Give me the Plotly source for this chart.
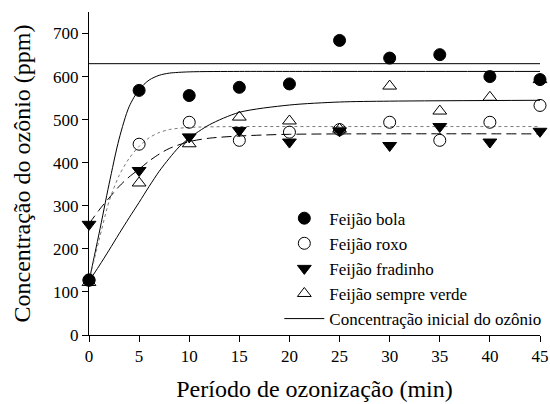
import plotly.graph_objects as go

# ---- data ----
tempo = [0, 5, 10, 15, 20, 25, 30, 35, 40, 45]
bola = [127, 568, 556, 575, 583, 684, 643, 651, 600, 593]
roxo = [128, 443, 494, 452, 471, 477, 494, 452, 494, 533]
fradinho = [257, 382, 460, 475, 448, 474, 440, 484, 448, 473]
sempre_verde = [122, 353, 444, 506, 497, 478, 578, 520, 552, 593]
conc_inicial = 630

# fitted curves
fit_bola_x = [0, 1, 2, 3, 4, 5, 6, 7, 8, 10, 15, 20, 45]
fit_bola_y = [125, 235, 350, 455, 530, 570, 592, 603, 608, 611, 612, 612, 612]
fit_roxo_x = [0, 1, 2, 3, 4, 5, 6, 7, 8, 10, 15, 20, 45]
fit_roxo_y = [125, 220, 310, 370, 410, 438, 458, 470, 477, 482, 484, 484, 484]
fit_frad_x = [0, 1, 2, 3, 4, 5, 6, 7, 8, 10, 12, 15, 20, 45]
fit_frad_y = [258, 290, 318, 345, 367, 385, 404, 420, 433, 449, 457, 462, 466, 467]
fit_verde_x = [0, 1, 2, 3, 4, 5, 6, 7, 8, 9, 10, 12, 15, 20, 25, 30, 45]
fit_verde_y = [125, 160, 197, 235, 272, 308, 345, 380, 410, 437, 457, 488, 517, 534, 541, 543, 545]

xticks = [0, 5, 10, 15, 20, 25, 30, 35, 40, 45]
yticks = [0, 100, 200, 300, 400, 500, 600, 700]

FONT = '"Liberation Serif", "Times New Roman", Times, serif'

fig = go.Figure()

line_kw = dict(color="black", width=1)
fig.add_trace(go.Scatter(x=fit_bola_x, y=fit_bola_y, mode="lines", line=dict(**line_kw, shape="spline", smoothing=0.8), showlegend=False, hoverinfo="skip"))
fig.add_trace(go.Scatter(x=fit_roxo_x, y=fit_roxo_y, mode="lines", line=dict(color="#777777", width=1, dash="dot", shape="spline", smoothing=0.8), showlegend=False, hoverinfo="skip"))
fig.add_trace(go.Scatter(x=fit_frad_x, y=fit_frad_y, mode="lines", line=dict(color="black", width=1, dash="10px,5px", shape="spline", smoothing=0.8), showlegend=False, hoverinfo="skip"))
fig.add_trace(go.Scatter(x=fit_verde_x, y=fit_verde_y, mode="lines", line=dict(**line_kw, shape="spline", smoothing=0.8), showlegend=False, hoverinfo="skip"))

fig.add_trace(go.Scatter(x=tempo, y=bola, mode="markers", name="Feijão bola",
                         marker=dict(symbol="circle", size=12, color="black", line=dict(color="black", width=1)), cliponaxis=False))
fig.add_trace(go.Scatter(x=tempo, y=roxo, mode="markers", name="Feijão roxo",
                         marker=dict(symbol="circle-open", size=12, color="black", line=dict(color="black", width=1)), cliponaxis=False))
fig.add_trace(go.Scatter(x=tempo, y=fradinho, mode="markers", name="Feijão fradinho",
                         marker=dict(symbol="triangle-down", size=12, color="black", line=dict(color="black", width=1)), cliponaxis=False))
fig.add_trace(go.Scatter(x=tempo, y=sempre_verde, mode="markers", name="Feijão sempre verde",
                         marker=dict(symbol="triangle-up-open", size=12, color="black", line=dict(color="black", width=1)), cliponaxis=False))
fig.add_trace(go.Scatter(x=[tempo[0], tempo[-1]], y=[conc_inicial, conc_inicial], mode="lines",
                         name="Concentração inicial do ozônio", line=dict(color="black", width=1)))

fig.update_layout(
    width=550, height=404,
    margin=dict(l=89, r=10, t=12, b=69, autoexpand=False),
    paper_bgcolor="white", plot_bgcolor="white",
    font=dict(family=FONT, size=17, color="black"),
    legend=dict(x=0.422, y=0.416, xanchor="left", yanchor="top",
                bgcolor="rgba(0,0,0,0)", borderwidth=0, itemwidth=40,
                font=dict(family=FONT, size=17), tracegroupgap=0),
    xaxis=dict(range=[0, 45], tickvals=xticks, ticks="outside", ticklen=6, tickcolor="black",
               showline=True, linecolor="black", linewidth=1, showgrid=False, zeroline=False,
               automargin=False,
               title=dict(text="Período de ozonização (min)", font=dict(family=FONT, size=24), standoff=14),
               tickfont=dict(family=FONT, size=17)),
    yaxis=dict(range=[0, 750], tickvals=yticks, ticks="outside", ticklen=6, tickcolor="black",
               showline=True, linecolor="black", linewidth=1, showgrid=False, zeroline=False,
               automargin=False,
               title=dict(text="Concentração do ozônio (ppm)", font=dict(family=FONT, size=24), standoff=15),
               tickfont=dict(family=FONT, size=17)),
)

fig.write_html("out.html", config={"displayModeBar": False},
               post_script="document.body.style.margin='0';document.body.style.padding='0';")
